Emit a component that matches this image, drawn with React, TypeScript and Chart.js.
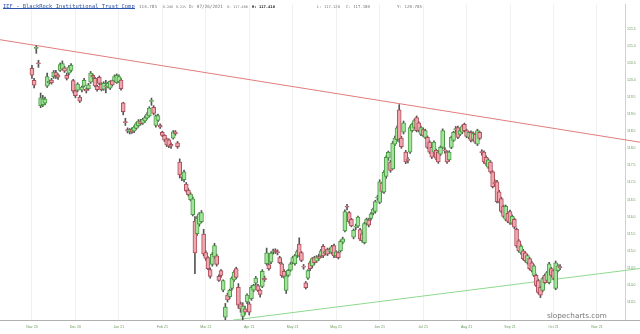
import React, { useEffect, useRef } from "react";
import { Chart, registerables } from "chart.js";
Chart.register(...registerables);

const opens = [
  120.34,119.99,120.93,120.50,119.25,119.28,119.32,119.82,119.92,120.00,
  120.10,120.22,120.15,120.28,120.32,120.36,120.14,120.20,120.28,119.98,
  119.68,119.70,119.50,119.70,119.82,119.73,119.75,119.94,120.14,120.05,
  119.82,120.08,119.88,119.73,119.83,119.80,119.76,119.98,119.97,119.92,
  119.95,120.00,119.33,118.78,118.55,118.48,118.55,118.50,118.58,118.66,
  118.80,118.74,118.80,118.88,118.95,119.38,119.20,118.67,118.82,118.68,
  118.47,118.38,118.28,118.25,118.12,118.30,118.48,118.16,117.60,117.25,
  117.08,116.95,116.78,116.50,116.06,115.86,115.50,115.78,115.85,115.49,
  114.95,114.80,114.45,114.60,114.82,114.85,114.25,114.42,113.85,113.06,
  113.70,113.66,113.90,114.15,114.48,113.93,113.45,113.08,113.30,113.50,
  113.45,113.60,113.85,114.05,113.98,113.85,113.96,114.20,114.62,114.60,
  114.67,114.96,115.02,114.98,114.80,114.62,114.40,113.84,114.28,114.43,
  114.66,114.62,114.85,115.20,114.95,114.55,114.06,114.20,114.65,114.56,
  114.80,114.70,114.83,114.85,115.13,114.92,115.05,115.00,114.95,115.15,
  114.85,114.95,115.00,115.25,115.58,116.30,116.12,115.92,115.40,115.70,
  115.72,115.62,115.50,115.24,115.80,115.90,115.95,116.10,116.15,116.55,
  116.42,116.98,116.72,117.18,117.72,117.60,117.40,118.12,118.25,119.13,
  118.30,118.47,117.89,117.67,117.89,118.52,118.61,118.90,118.75,118.41,
  118.55,118.32,118.32,118.18,118.03,117.89,117.94,117.89,117.83,118.03,
  117.95,117.89,117.66,118.03,118.23,118.55,118.61,118.41,118.47,118.70,
  118.52,118.32,118.47,118.26,118.41,118.12,118.47,117.90,117.89,117.74,
  117.45,117.60,117.31,116.99,117.02,116.73,116.53,116.30,115.92,116.10,
  116.15,115.81,115.92,115.63,115.29,114.94,115.00,114.94,114.65,114.77,
  114.65,114.28,114.28,114.13,113.93,113.84,114.28,114.13,114.07,114.48,
  114.42,113.90,114.42,114.53
];
const highs = [
  120.43,120.05,121.00,120.58,119.62,119.55,119.50,120.20,120.00,120.05,
  120.28,120.28,120.18,120.50,120.56,120.40,120.20,120.42,120.48,120.02,
  119.70,119.92,119.55,119.82,120.05,119.77,119.90,120.25,120.18,120.08,
  119.85,120.12,119.92,119.95,119.99,119.94,119.98,120.00,120.15,120.18,
  120.15,120.05,119.35,118.88,118.60,118.58,118.60,118.66,118.76,118.84,
  118.85,118.88,118.95,119.05,119.22,119.47,119.25,118.98,119.00,118.72,
  118.50,118.40,118.30,118.28,118.16,118.52,118.52,118.20,117.69,117.30,
  117.36,117.00,116.82,116.70,116.58,116.00,116.02,116.12,116.18,115.63,
  115.00,114.83,114.50,114.95,115.22,114.90,114.30,114.45,114.15,113.46,
  113.76,113.88,114.24,114.42,114.52,114.04,113.50,113.48,113.38,113.74,
  113.50,113.98,114.02,114.25,114.02,113.88,114.45,114.26,115.08,114.65,
  114.97,115.05,115.06,115.03,114.84,114.65,114.45,114.35,114.46,114.66,
  114.84,114.90,115.02,115.38,114.98,114.60,114.10,114.45,114.70,114.80,
  114.84,114.86,114.90,115.04,115.18,115.02,115.08,115.08,115.16,115.20,
  115.00,114.98,115.32,115.40,116.20,116.36,116.15,115.95,115.64,115.78,
  116.02,115.66,115.55,115.84,115.96,115.95,116.12,116.25,116.48,116.62,
  117.08,117.00,117.35,117.78,117.92,117.65,118.20,118.36,118.65,119.28,
  118.35,118.80,117.94,117.73,118.66,118.74,118.86,118.95,118.78,118.65,
  118.60,118.56,118.36,118.22,118.08,118.22,117.98,117.93,118.07,118.57,
  118.02,117.93,117.93,118.36,118.50,118.64,118.65,118.56,118.68,118.74,
  118.56,118.50,118.51,118.48,118.45,118.56,118.50,117.96,117.93,117.78,
  117.70,117.64,117.35,117.08,117.06,116.77,116.57,116.34,116.34,116.14,
  116.19,116.05,115.96,115.67,115.33,115.18,115.04,114.98,114.90,114.81,
  114.69,114.60,114.32,114.17,113.97,114.23,114.32,114.40,114.66,114.52,
  114.46,114.70,114.60,114.60
];
const lows = [
  120.05,119.77,120.78,120.37,119.19,119.22,119.27,119.78,119.88,119.88,
  120.05,120.05,120.02,120.25,120.30,120.22,120.00,120.15,120.24,119.62,
  119.48,119.66,119.34,119.65,119.80,119.62,119.70,119.90,120.04,119.80,
  119.67,119.86,119.68,119.70,119.62,119.77,119.72,119.82,119.95,119.90,
  119.92,119.70,118.98,118.67,118.45,118.42,118.44,118.46,118.55,118.62,
  118.68,118.70,118.76,118.85,118.92,119.26,118.98,118.62,118.78,118.58,
  118.34,118.20,118.05,118.02,118.00,118.27,118.38,118.00,117.13,117.05,
  117.02,116.72,116.60,116.46,116.02,114.33,115.45,115.72,115.82,114.85,
  114.72,114.45,114.20,114.55,114.78,114.55,114.10,114.22,113.80,112.98,
  113.50,113.60,113.85,114.10,114.18,113.32,113.20,112.98,113.12,113.45,
  113.12,113.55,113.80,114.00,113.80,113.64,113.92,114.10,114.58,114.43,
  114.62,114.90,114.92,114.88,114.62,114.22,114.20,113.75,114.25,114.40,
  114.62,114.58,114.80,114.82,114.68,114.46,113.88,114.16,114.42,114.50,
  114.60,114.66,114.72,114.80,114.80,114.88,114.86,114.92,114.90,114.80,
  114.80,114.76,114.96,115.20,115.55,116.20,115.80,115.70,115.35,115.62,
  115.68,115.30,115.25,115.20,115.75,115.70,115.90,116.05,116.10,116.48,
  116.38,116.70,116.68,117.12,117.65,117.30,117.38,118.08,118.20,118.18,
  118.00,118.42,117.55,117.57,117.85,118.48,118.57,118.48,118.48,118.37,
  118.34,118.28,117.99,117.85,117.70,117.85,117.67,117.56,117.79,117.99,
  117.86,117.56,117.62,117.99,118.20,118.41,118.28,118.37,118.43,118.48,
  118.31,118.28,118.19,118.22,118.14,118.08,118.25,117.80,117.56,117.50,
  117.41,117.27,116.84,116.88,116.40,116.40,116.11,115.97,115.88,115.82,
  115.77,115.77,115.65,115.10,114.96,114.90,114.73,114.67,114.61,114.44,
  114.38,114.24,113.95,113.74,113.63,113.80,114.03,114.09,114.03,114.24,
  114.15,113.86,114.38,114.45
];
const closes = [
  120.14,119.85,120.95,120.48,119.48,119.45,119.44,120.10,119.96,119.92,
  120.23,120.13,120.08,120.45,120.48,120.26,120.05,120.38,120.43,119.68,
  119.54,119.88,119.38,119.79,119.99,119.68,119.86,120.20,120.08,119.83,
  119.72,119.90,119.72,119.90,119.80,119.90,119.96,119.86,120.10,120.14,
  120.10,119.75,119.07,118.75,118.50,118.55,118.48,118.62,118.72,118.80,
  118.72,118.85,118.90,119.00,119.18,119.40,119.02,118.95,118.96,118.62,
  118.38,118.24,118.10,118.06,118.06,118.48,118.42,118.05,117.22,117.15,
  117.31,116.75,116.64,116.66,116.52,114.94,115.95,116.08,116.12,114.91,
  114.78,114.48,114.25,114.90,115.15,114.60,114.13,114.28,114.13,113.35,
  113.56,113.84,114.20,114.38,114.22,113.41,113.30,113.38,113.20,113.70,
  113.20,113.93,113.99,114.20,113.84,113.72,114.40,114.15,114.94,114.47,
  114.93,115.00,114.97,114.94,114.65,114.27,114.25,114.27,114.43,114.62,
  114.80,114.86,114.98,114.85,114.72,114.52,113.92,114.42,114.48,114.77,
  114.65,114.82,114.78,115.00,114.85,114.98,114.90,115.01,115.12,114.85,
  114.97,114.80,115.28,115.35,116.15,116.28,115.85,115.73,115.60,115.72,
  115.99,115.35,115.30,115.80,115.92,115.75,116.08,116.22,116.44,116.57,
  117.02,116.74,117.30,117.74,117.88,117.35,118.15,118.30,118.60,118.26,
  118.05,118.75,117.60,117.65,118.61,118.70,118.81,118.52,118.52,118.61,
  118.38,118.52,118.03,117.89,117.74,118.18,117.71,117.60,118.03,118.52,
  117.93,117.60,117.89,118.32,118.47,118.57,118.32,118.52,118.64,118.52,
  118.35,118.47,118.23,118.44,118.18,118.52,118.29,117.88,117.60,117.54,
  117.66,117.31,116.88,116.97,116.44,116.44,116.15,116.01,116.30,115.86,
  115.81,116.01,115.69,115.14,115.00,115.14,114.77,114.71,114.86,114.48,
  114.42,114.56,113.99,113.78,113.70,114.19,114.07,114.36,114.62,114.28,
  114.19,114.65,114.56,114.51
];

const xTickIndex = [0, 20, 40, 60, 80, 100, 120, 140, 160, 180, 200, 220, 240, 260];
const xTickLabels = ["Nov 20", "Dec 20", "Jan 21", "Feb 21", "Mar 21", "Apr 21", "May 21", "May 21", "Jun 21", "Jul 21", "Aug 21", "Sep 21", "Oct 21", "Nov 21"];
const yTickValues = [121.5, 121.0, 120.5, 120.0, 119.5, 119.0, 118.5, 118.0, 117.5, 117.0, 116.5, 116.0, 115.5, 115.0, 114.5, 114.0, 113.5];

const resistanceLine = [{ x: -14.7, y: 121.18 }, { x: 279.8, y: 118.18 }];
const supportLine = [{ x: 92.5, y: 112.97 }, { x: 279.8, y: 114.48 }];

const headerName = "IEF - BlackRock Institutional Trust Comp";
const headerFields = ["114.785", "0.240", "0.21%", "D: 07/26/2021", "O: 117.400", "H: 117.418", "L: 117.120", "C: 117.180", "Y: 120.785"];
const watermark = "slopecharts.com";

function fitText(ctx: CanvasRenderingContext2D, text: string, x: number, y: number, w: number, family: string, weight: string, color: string) {
  ctx.font = `${weight} 10px ${family}`;
  const m = ctx.measureText(text).width;
  const size = (10 * w) / m;
  ctx.font = `${weight} ${size}px ${family}`;
  ctx.fillStyle = color;
  ctx.textBaseline = "alphabetic";
  ctx.textAlign = "left";
  ctx.fillText(text, x, y);
  return size;
}

const overlayPlugin = {
  id: "overlay",
  afterDraw(chart: any) {
    const ctx: CanvasRenderingContext2D = chart.ctx;
    const a = chart.chartArea;
    ctx.save();
    ctx.strokeStyle = "#b0b0b0";
    ctx.lineWidth = 1;
    ctx.beginPath();
    ctx.moveTo(a.right, a.bottom + 0.5);
    ctx.lineTo(640, a.bottom + 0.5);
    ctx.stroke();
    const mono = "'DejaVu Sans Mono', monospace";
    fitText(ctx, headerName, 3, 7.5, 132, mono, "normal", "#2f55a8");
    ctx.strokeStyle = "#2f55a8";
    ctx.beginPath();
    ctx.moveTo(3, 8.5);
    ctx.lineTo(135, 8.5);
    ctx.stroke();
    const pos = [[139, 18], [163, 10], [176, 10], [189, 34], [227, 21], [252, 23], [317, 23], [346, 24], [397, 25]];
    headerFields.forEach((t, i) => {
      const bold = i === 5;
      fitText(ctx, t, pos[i][0], 7.5, pos[i][1], mono, bold ? "bold" : "normal", bold ? "#222" : "#777");
    });
    fitText(ctx, watermark, 547, 318, 60, "'DejaVu Sans', sans-serif", "normal", "#777");
    ctx.restore();
  },
};

export default function App() {
  const ref = useRef<HTMLCanvasElement>(null);
  useEffect(() => {
    document.body.style.margin = "0";
    const idx = closes.map((_, i) => i);
    const up = idx.map((i) => closes[i] >= opens[i]);
    const bodyData = idx.map((i) => {
      let a = opens[i];
      let b = closes[i];
      if (Math.abs(a - b) < 0.03) {
        const m = (a + b) / 2;
        a = m - 0.015;
        b = m + 0.015;
      }
      return { x: i, y: [Math.min(a, b), Math.max(a, b)] };
    });
    const wickData = idx.map((i) => ({ x: i, y: [lows[i], highs[i]] }));
    const chart = new Chart(ref.current as HTMLCanvasElement, {
      type: "bar",
      data: {
        datasets: [
          {
            type: "bar",
            data: bodyData as any,
            backgroundColor: up.map((u) => (u ? "#a4e39c" : "#efa7b0")),
            borderColor: up.map((u) => (u ? "#4a9a43" : "#ad4d5a")),
            borderWidth: 1,
            borderSkipped: false,
            barThickness: 4,
            grouped: false,
            order: 0,
          } as any,
          {
            type: "bar",
            data: wickData as any,
            backgroundColor: "#555",
            borderWidth: 0,
            barThickness: 1,
            grouped: false,
            order: 1,
          } as any,
          {
            type: "line",
            data: resistanceLine as any,
            borderColor: "#e27c7c",
            borderWidth: 1,
            pointRadius: 0,
            clip: false,
            order: 2,
          } as any,
          {
            type: "line",
            data: supportLine as any,
            borderColor: "#8fd98f",
            borderWidth: 1,
            pointRadius: 0,
            clip: false,
            order: 2,
          } as any,
        ],
      },
      options: {
        responsive: false,
        maintainAspectRatio: false,
        animation: false,
        events: [],
        layout: { padding: 0 },
        plugins: { legend: { display: false }, tooltip: { enabled: false } },
        scales: {
          x: {
            type: "linear",
            min: -14.7,
            max: 272.9,
            offset: false,
            afterFit: (s: any) => {
              s.height = 14;
            },
            afterBuildTicks: (s: any) => {
              s.ticks = xTickIndex.map((v) => ({ value: v }));
            },
            ticks: {
              autoSkip: false,
              maxRotation: 0,
              padding: 5,
              color: "#6f9a5f",
              font: { size: 3.6, family: "'Liberation Sans', sans-serif" },
              callback: (v: any) => {
                const k = xTickIndex.indexOf(Number(v));
                return k >= 0 ? xTickLabels[k] : "";
              },
            },
            grid: { color: "#f1f1f1", drawTicks: false, offset: false },
            border: { color: "#b0b0b0" },
          },
          y: {
            type: "linear",
            position: "right",
            min: 112.974,
            max: 122.2225,
            afterFit: (s: any) => {
              s.width = 15;
            },
            afterBuildTicks: (s: any) => {
              s.ticks = yTickValues.map((v) => ({ value: v }));
            },
            ticks: {
              padding: 2,
              color: "#6f9a5f",
              font: { size: 3.5, family: "'Liberation Sans', sans-serif" },
              callback: (v: any) => Number(v).toFixed(1),
            },
            grid: { drawOnChartArea: false, drawTicks: false },
            border: { color: "#d0d0d0" },
          },
        },
      },
      plugins: [overlayPlugin],
    } as any);
    return () => chart.destroy();
  }, []);
  return (
    <div style={{ position: "absolute", left: 0, top: 0, width: 640, height: 334, background: "#fff" }}>
      <canvas ref={ref} width={640} height={334} style={{ width: 640, height: 334, display: "block" }} />
    </div>
  );
}
